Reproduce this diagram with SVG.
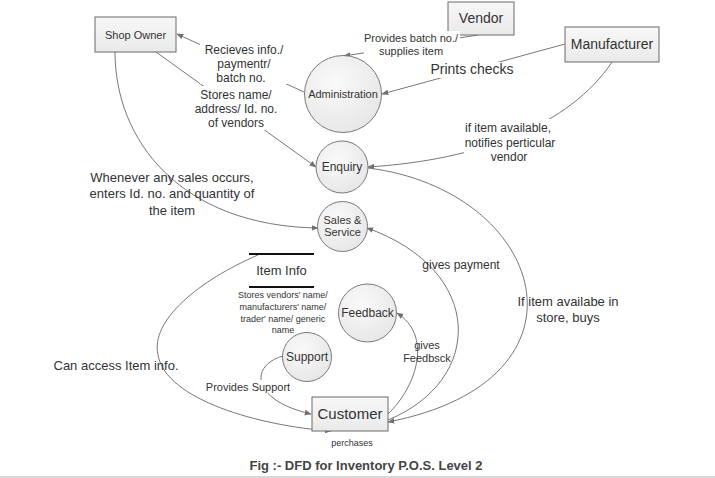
<svg xmlns="http://www.w3.org/2000/svg" width="715" height="478" viewBox="0 0 715 478">
<defs>
<linearGradient id="rg" x1="0" y1="0" x2="0" y2="1"><stop offset="0" stop-color="#f7f7f7"/><stop offset="1" stop-color="#eaeaea"/></linearGradient>
<radialGradient id="cg" cx="0.4" cy="0.35" r="0.7"><stop offset="0" stop-color="#fafafa"/><stop offset="1" stop-color="#e6e6e6"/></radialGradient>
<marker id="ar" viewBox="0 0 10 10" refX="9" refY="5" markerWidth="7" markerHeight="7" orient="auto" markerUnits="userSpaceOnUse"><path d="M0,1 L10,5 L0,9 z" fill="#707070"/></marker>
</defs>
<style>
.box{fill:url(#rg);stroke:#6b6b6b;stroke-width:1}
.cir{fill:url(#cg);stroke:#7a7a7a;stroke-width:1}
.c{fill:none;stroke:#777;stroke-width:1;marker-end:url(#ar)}
text{font-family:"Liberation Sans",Arial,sans-serif;fill:#333;text-anchor:middle}
.s9{font-size:9px}.s11{font-size:11px}.s12{font-size:12px}.s13{font-size:13px}.s14{font-size:14px}.s15{font-size:15px}
</style>
<rect width="715" height="478" fill="#fff"/>
<rect x="0" y="476" width="715" height="2" fill="#d9d9d9"/>

<g id="connectors">
<path class="c" d="M304,92 L177,34"/>
<path class="c" d="M156,52 L316,167"/>
<path class="c" d="M478,35 L344,56"/>
<path class="c" d="M565,44 L382,94"/>
<path class="c" d="M612,62 C570,125 480,160 368,167"/>
<path class="c" d="M368,168 C545,190 605,380 388,422"/>
<path class="c" d="M388,420 C485,380 485,270 367,228"/>
<path class="c" d="M388,414 C418,385 432,335 397,313"/>
<path class="c" d="M115,52 C115,140 180,226 318,228"/>
<path class="c" d="M258,255 C200,280 150,320 158,355 C166,400 260,426 331,431"/>
<path class="c" d="M283,356 C250,365 250,400 311,414"/>
</g>

<g id="shop-owner"><rect class="box" x="95" y="17" width="81" height="35"/><text class="s11" x="135.5" y="39">Shop Owner</text></g>
<g id="vendor"><rect class="box" x="448" y="2" width="66" height="33"/><text class="s14" x="481" y="23">Vendor</text></g>
<g id="manufacturer"><rect class="box" x="565" y="27" width="94" height="35"/><text class="s14" x="612" y="49">Manufacturer</text></g>
<g id="administration"><circle class="cir" cx="343" cy="94" r="38.5"/><text class="s11" x="343" y="98">Administration</text></g>
<g id="enquiry"><circle class="cir" cx="342" cy="167" r="26"/><text class="s12" x="342" y="171">Enquiry</text></g>
<g id="sales-service"><circle class="cir" cx="342.5" cy="226.5" r="25"/><text class="s11" x="342.5" y="224">Sales &amp;</text><text class="s11" x="342.5" y="236">Service</text></g>
<g id="item-info"><path d="M249,254 H314 M249,287 H314" stroke="#111" stroke-width="2"/><text class="s13" x="281.5" y="275">Item Info</text></g>
<g id="feedback"><circle class="cir" cx="367.5" cy="313" r="29"/><text class="s12" x="367.5" y="317">Feedback</text></g>
<g id="support"><circle class="cir" cx="307" cy="357" r="24.5"/><text class="s12" x="307" y="361">Support</text></g>
<g id="customer"><rect class="box" x="312" y="397" width="76" height="34"/><text class="s15" x="350" y="419">Customer</text></g>

<g id="labels">
<rect x="200" y="40" width="90" height="44" fill="#fff"/>
<text class="s12" x="244" y="54">Recieves info./</text>
<text class="s12" x="244" y="68">paymentr/</text>
<text class="s12" x="241" y="82">batch no.</text>
<rect x="194" y="86" width="86" height="44" fill="#fff"/>
<text class="s12" x="236" y="99">Stores name/</text>
<text class="s12" x="236" y="113">address/ Id. no.</text>
<text class="s12" x="236" y="127">of vendors</text>
<rect x="364" y="31" width="96" height="26" fill="#fff"/>
<text class="s11" x="411" y="42">Provides batch no./</text>
<text class="s11" x="411" y="55">supplies item</text>
<rect x="432" y="62" width="82" height="16" fill="#fff"/>
<text class="s14" x="472" y="74">Prints checks</text>
<rect x="464" y="119" width="92" height="42" fill="#fff"/>
<text class="s12" x="508" y="132">if item available,</text>
<text class="s12" x="510" y="147">notifies perticular</text>
<text class="s12" x="509" y="161">vendor</text>
<text class="s13" x="172" y="182">Whenever any sales occurs,</text>
<text class="s13" x="172" y="198">enters Id. no. and quantity of</text>
<text class="s13" x="172" y="215">the item</text>
<text class="s12" x="461" y="269">gives payment</text>
<text class="s13" x="568" y="306">If item availabe in</text>
<text class="s13" x="568" y="322">store, buys</text>
<text class="s11" x="427" y="349">gives</text>
<text class="s11" x="427" y="362">Feedbsck</text>
<text class="s9" x="283" y="298">Stores vendors' name/</text>
<text class="s9" x="283" y="310">manufacturers' name/</text>
<text class="s9" x="283" y="322">trader' name/ generic</text>
<text class="s9" x="283" y="333">name</text>
<rect x="207" y="380" width="82" height="13" fill="#fff"/>
<text class="s11" x="248" y="391">Provides Support</text>
<text class="s13" x="116" y="370">Can access Item info.</text>
<text class="s9" x="352" y="446">perchases</text>
<text x="366" y="470" style="font-size:13px;font-weight:bold;fill:#444">Fig :- DFD for Inventory P.O.S. Level 2</text>
</g>
</svg>
